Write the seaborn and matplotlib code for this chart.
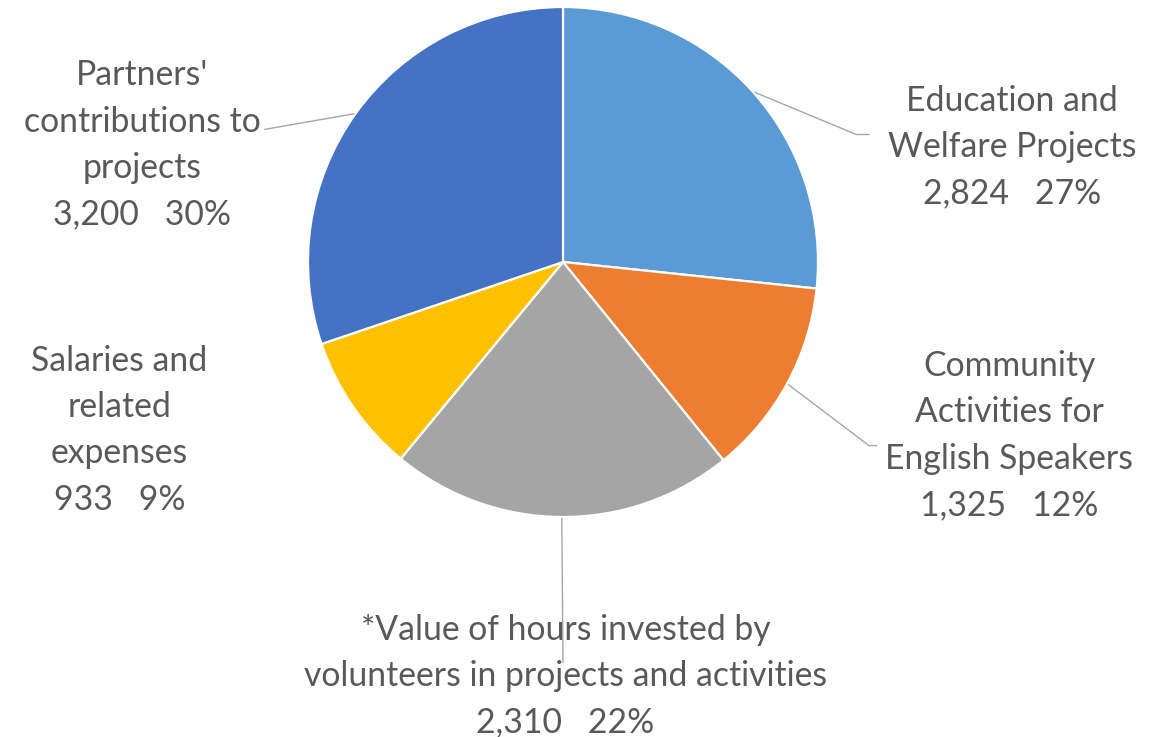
import numpy as np
import seaborn as sns
import matplotlib.pyplot as plt

# chart data
categories = [
    "Education and\nWelfare Projects",
    "Community\nActivities for\nEnglish Speakers",
    "*Value of hours invested by\nvolunteers in projects and activities",
    "Salaries and\nrelated\nexpenses",
    "Partners'\ncontributions to\nprojects",
]
amounts = [2824, 1325, 2310, 933, 3200]
percents = [27, 12, 22, 9, 30]
colors = ["#5B9BD5", "#ED7D31", "#A5A5A5", "#FFC000", "#4472C4"]

# label layout (pie radius = 1, centre at 0,0)
label_xy = [(1.76, 0.45), (1.75, -0.68), (0.01, -1.625), (-1.74, -0.66), (-1.65, 0.46)]
leader_end = [(1.20, 0.50), (1.23, -0.72), (0.0, -1.57), (-0.72, -0.43), (-1.17, 0.52)]
leader_knee = [(1.15, 0.50), (1.20, -0.72), (0.0, -1.57), (-0.76, -0.43), (-1.17, 0.52)]

sns.set_theme(style="white")
plt.rcParams["font.family"] = ["Lato", "DejaVu Sans"]

fig = plt.figure(figsize=(11.66, 7.37), dpi=100)
ax = fig.add_axes([0, 0, 1, 1])

wedges, _ = ax.pie(amounts, colors=sns.color_palette(colors), startangle=90,
                   counterclock=False, radius=1,
                   wedgeprops=dict(edgecolor="white", linewidth=1.6))

text_color = "#595959"
for w, lab, amt, pct, (tx, ty), (kx, ky), (ex, ey) in zip(
        wedges, categories, amounts, percents, label_xy, leader_knee, leader_end):
    mid = np.deg2rad((w.theta1 + w.theta2) / 2)
    sx, sy = np.cos(mid), np.sin(mid)
    ax.plot([sx, kx, ex], [sy, ky, ey], color="#A6A6A6", lw=1.0, zorder=0.5)
    ax.text(tx, ty, f"{lab}\n{amt:,}   {pct}%", ha="center", va="center",
            fontsize=24.3, color=text_color, linespacing=1.55)

ax.set_xlim(-563 / 255, (1166 - 563) / 255)
ax.set_ylim(-(737 - 262) / 255, 262 / 255)
ax.set_aspect("equal")
ax.axis("off")

fig.savefig("out.png", dpi=100, facecolor="white")
